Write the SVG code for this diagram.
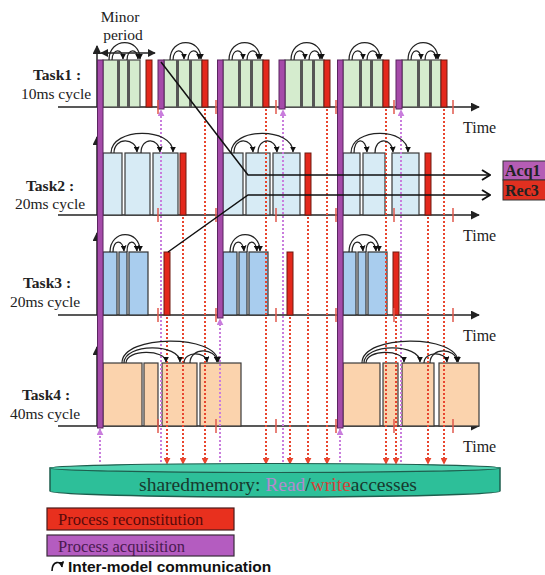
<svg xmlns="http://www.w3.org/2000/svg" width="545" height="575" viewBox="0 0 545 575">
<defs>
<style>
.lbl{font-family:"Liberation Serif",serif;font-size:16px;fill:#222}
.tl{font-size:15.5px}
.b{font-weight:bold}
.base{stroke:#222;stroke-width:1.5;marker-end:url(#ah)}
.axis{stroke:#222;stroke-width:1.5;marker-end:url(#ah)}
.tick{stroke:#e0584c;stroke-width:1.5}
.g1{fill:#d5ecce;stroke:#4a4a4a;stroke-width:1.2}
.sep{stroke:#555;stroke-width:3}
.g2{fill:#d7ebf5;stroke:#3a3a3a;stroke-width:1.2}
.g3{fill:#a9cdee;stroke:#333;stroke-width:1.2}
.g4{fill:#fbd3ad;stroke:#3a3a3a;stroke-width:1.2}
.acq{fill:#a54ba9;stroke:#5a2460;stroke-width:1}
.rec{fill:#e4281c;stroke:#6e1a10;stroke-width:1}
.rd{stroke:#e8452e;stroke-width:2;stroke-dasharray:2 2;marker-end:url(#rdn)}
.pd{stroke:#c97ddd;stroke-width:2;stroke-dasharray:2 2;marker-end:url(#pup)}
.arc{fill:none;stroke:#222;stroke-width:1.2;marker-end:url(#sa)}
.lk{fill:none;stroke:#111;stroke-width:1.5;marker-end:url(#chev)}
</style>
<marker id="ah" viewBox="0 0 10 10" refX="9" refY="5" markerWidth="9" markerHeight="9" markerUnits="userSpaceOnUse" orient="auto"><path d="M0,0 L10,5 L0,10 z" fill="#222"/></marker>
<marker id="ah2" viewBox="0 0 10 10" refX="9" refY="5" markerWidth="8" markerHeight="8" markerUnits="userSpaceOnUse" orient="auto-start-reverse"><path d="M0,0 L10,5 L0,10 z" fill="#222"/></marker>
<marker id="sa" viewBox="0 0 10 10" refX="9" refY="5" markerWidth="6" markerHeight="6" markerUnits="userSpaceOnUse" orient="auto"><path d="M0,0 L10,5 L0,10 z" fill="#111"/></marker>
<marker id="rdn" viewBox="0 0 10 10" refX="9" refY="5" markerWidth="7" markerHeight="7" markerUnits="userSpaceOnUse" orient="auto"><path d="M0,0 L10,5 L0,10 z" fill="#e8452e"/></marker>
<marker id="pup" viewBox="0 0 10 10" refX="9" refY="5" markerWidth="7" markerHeight="7" markerUnits="userSpaceOnUse" orient="auto"><path d="M0,0 L10,5 L0,10 z" fill="#c97ddd"/></marker>
<marker id="chev" viewBox="0 0 10 12" refX="9" refY="6" markerWidth="10" markerHeight="12" markerUnits="userSpaceOnUse" orient="auto"><path d="M1,1 L9,6 L1,11" fill="none" stroke="#111" stroke-width="2"/></marker>
</defs>
<rect width="545" height="575" fill="#fff"/>

<g id="minor-period">
<text class="lbl tl" x="120" y="22" text-anchor="middle">Minor</text>
<text class="lbl tl" x="123" y="40" text-anchor="middle">period</text>
<line x1="101" y1="53" x2="155" y2="53" stroke="#222" stroke-width="1.5" marker-start="url(#ah2)" marker-end="url(#ah2)"/>
</g>

<g id="task1">
<text class="lbl tl b" x="57" y="80" text-anchor="middle">Task1 :</text>
<text class="lbl tl" x="56" y="99" text-anchor="middle">10ms cycle</text>
<line class="base" x1="58" y1="107" x2="479" y2="107"/>
<line class="axis" x1="97" y1="107" x2="97" y2="46"/>
<rect class="g1" x="103" y="60" width="37" height="47"/>
<rect class="g1" x="164" y="60" width="38" height="47"/>
<rect class="g1" x="223" y="60" width="40" height="47"/>
<rect class="g1" x="285" y="60" width="39" height="47"/>
<rect class="g1" x="343" y="60" width="40" height="47"/>
<rect class="g1" x="402" y="60" width="39" height="47"/>
<g class="sep">
<line x1="118.5" y1="60" x2="118.5" y2="107"/><line x1="128.5" y1="60" x2="128.5" y2="107"/>
<line x1="177.5" y1="60" x2="177.5" y2="107"/><line x1="190.5" y1="60" x2="190.5" y2="107"/>
<line x1="239.5" y1="60" x2="239.5" y2="107"/><line x1="251.5" y1="60" x2="251.5" y2="107"/>
<line x1="301.5" y1="60" x2="301.5" y2="107"/><line x1="313.5" y1="60" x2="313.5" y2="107"/>
<line x1="360.5" y1="60" x2="360.5" y2="107"/><line x1="371.5" y1="60" x2="371.5" y2="107"/>
<line x1="418.5" y1="60" x2="418.5" y2="107"/><line x1="430.5" y1="60" x2="430.5" y2="107"/>
</g>
<rect class="rec" x="146" y="60" width="6" height="47"/>
<rect class="rec" x="202" y="60" width="6" height="47"/>
<rect class="rec" x="263" y="60" width="6" height="47"/>
<rect class="rec" x="324" y="60" width="6" height="47"/>
<rect class="rec" x="383" y="60" width="6" height="47"/>
<rect class="rec" x="441" y="60" width="6" height="47"/>
<rect class="acq" x="158" y="60" width="6" height="49"/>
<rect class="acq" x="279" y="60" width="6" height="49"/>
<rect class="acq" x="396" y="60" width="6" height="49"/>
<g class="tick">
<line x1="158" y1="100" x2="158" y2="114"/><line x1="216" y1="100" x2="216" y2="114"/><line x1="276" y1="100" x2="276" y2="114"/><line x1="336" y1="100" x2="336" y2="114"/><line x1="394" y1="100" x2="394" y2="114"/><line x1="453" y1="100" x2="453" y2="114"/>
</g>
<text class="lbl" x="463" y="133">Time</text>
</g>

<g id="task2">
<text class="lbl tl b" x="50" y="191" text-anchor="middle">Task2 :</text>
<text class="lbl tl" x="50" y="209" text-anchor="middle">20ms cycle</text>
<line class="base" x1="58" y1="215" x2="479" y2="215"/>
<line class="axis" x1="97" y1="215" x2="97" y2="137"/>
<rect class="g2" x="103" y="153" width="19" height="62"/>
<rect class="g2" x="125" y="153" width="25" height="62"/>
<rect class="g2" x="153" y="153" width="25" height="62"/>
<rect class="g2" x="223" y="153" width="20" height="62"/>
<rect class="g2" x="246" y="153" width="24" height="62"/>
<rect class="g2" x="273" y="153" width="27" height="62"/>
<rect class="g2" x="343" y="153" width="17" height="62"/>
<rect class="g2" x="363" y="153" width="22" height="62"/>
<rect class="g2" x="392" y="153" width="27" height="62"/>
<rect class="rec" x="180" y="153" width="6" height="62"/>
<rect class="rec" x="305" y="153" width="6" height="62"/>
<rect class="rec" x="425" y="153" width="6" height="62"/>
<g class="tick">
<line x1="158" y1="208" x2="158" y2="222"/><line x1="216" y1="208" x2="216" y2="222"/><line x1="276" y1="208" x2="276" y2="222"/><line x1="336" y1="208" x2="336" y2="222"/><line x1="394" y1="208" x2="394" y2="222"/><line x1="453" y1="208" x2="453" y2="222"/>
</g>
<text class="lbl" x="463" y="241">Time</text>
</g>

<g id="task3">
<text class="lbl tl b" x="47" y="288" text-anchor="middle">Task3 :</text>
<text class="lbl tl" x="45" y="307" text-anchor="middle">20ms cycle</text>
<line class="base" x1="58" y1="315" x2="479" y2="315"/>
<line class="axis" x1="97" y1="315" x2="97" y2="233"/>
<rect class="g3" x="103" y="252" width="14" height="63"/>
<rect class="g3" x="119" y="252" width="8" height="63"/>
<rect class="g3" x="129" y="252" width="19" height="63"/>
<rect class="g3" x="223" y="252" width="14" height="63"/>
<rect class="g3" x="239" y="252" width="8" height="63"/>
<rect class="g3" x="249" y="252" width="19" height="63"/>
<rect class="g3" x="343" y="252" width="13" height="63"/>
<rect class="g3" x="358" y="252" width="8" height="63"/>
<rect class="g3" x="368" y="252" width="19" height="63"/>
<rect class="rec" x="164" y="252" width="6" height="63"/>
<rect class="rec" x="287" y="252" width="6" height="63"/>
<rect class="rec" x="393" y="252" width="6" height="63"/>
<g class="tick">
<line x1="158" y1="308" x2="158" y2="322"/><line x1="216" y1="308" x2="216" y2="322"/><line x1="276" y1="308" x2="276" y2="322"/><line x1="336" y1="308" x2="336" y2="322"/><line x1="394" y1="308" x2="394" y2="322"/><line x1="453" y1="308" x2="453" y2="322"/>
</g>
<text class="lbl" x="463" y="341">Time</text>
</g>

<g id="task4">
<text class="lbl tl b" x="46" y="400" text-anchor="middle">Task4 :</text>
<text class="lbl tl" x="45" y="419" text-anchor="middle">40ms cycle</text>
<line class="base" x1="58" y1="426" x2="479" y2="426"/>
<line class="axis" x1="97" y1="426" x2="97" y2="347"/>
<rect class="g4" x="103" y="363" width="39" height="63"/>
<rect class="g4" x="144" y="363" width="14" height="63"/>
<rect class="g4" x="162" y="363" width="35" height="63"/>
<rect class="g4" x="200" y="363" width="41" height="63"/>
<rect class="g4" x="343" y="363" width="37" height="63"/>
<rect class="g4" x="383" y="363" width="15" height="63"/>
<rect class="g4" x="402" y="363" width="32" height="63"/>
<rect class="g4" x="439" y="363" width="40" height="63"/>
<g class="tick">
<line x1="158" y1="419" x2="158" y2="433"/><line x1="216" y1="419" x2="216" y2="433"/><line x1="276" y1="419" x2="276" y2="433"/><line x1="336" y1="419" x2="336" y2="433"/><line x1="394" y1="419" x2="394" y2="433"/><line x1="453" y1="419" x2="453" y2="433"/>
</g>
<text class="lbl" x="463" y="452">Time</text>
</g>

<g id="acquisition-bars">
<rect class="acq" x="97.5" y="60" width="5.5" height="368"/>
<rect class="acq" x="217.5" y="60" width="5.5" height="258"/>
<rect class="acq" x="337.5" y="60" width="5.5" height="368"/>
</g>

<g id="connectors">
<g id="writes">
<line class="rd" x1="205" y1="109" x2="205" y2="464"/>
<line class="rd" x1="266" y1="109" x2="266" y2="464"/>
<line class="rd" x1="327" y1="109" x2="327" y2="464"/>
<line class="rd" x1="386" y1="109" x2="386" y2="464"/>
<line class="rd" x1="444" y1="109" x2="444" y2="464"/>
<line class="rd" x1="183" y1="217" x2="183" y2="464"/>
<line class="rd" x1="308" y1="217" x2="308" y2="464"/>
<line class="rd" x1="428" y1="217" x2="428" y2="464"/>
<line class="rd" x1="167" y1="317" x2="167" y2="464"/>
<line class="rd" x1="290" y1="317" x2="290" y2="464"/>
<line class="rd" x1="396" y1="317" x2="396" y2="464"/>
</g>
<g id="reads">
<line class="pd" x1="161" y1="462" x2="161" y2="110"/>
<line class="pd" x1="283" y1="462" x2="283" y2="110"/>
<line class="pd" x1="401" y1="462" x2="401" y2="110"/>
<line class="pd" x1="100" y1="462" x2="100" y2="429"/>
<line class="pd" x1="220" y1="462" x2="220" y2="319"/>
<line class="pd" x1="340" y1="462" x2="340" y2="429"/>
</g>
<g id="inter-model">
<path class="arc" d="M109,60 C109,37 140,37 140,59"/><path class="arc" d="M112,60 C112,48 123,48 123,59"/><path class="arc" d="M127,60 C127,48 138,48 138,59"/>
<path class="arc" d="M170,60 C170,37 201,37 201,59"/><path class="arc" d="M173,60 C173,48 184,48 184,59"/><path class="arc" d="M188,60 C188,48 199,48 199,59"/>
<path class="arc" d="M229,60 C229,37 260,37 260,59"/><path class="arc" d="M232,60 C232,48 243,48 243,59"/><path class="arc" d="M247,60 C247,48 258,48 258,59"/>
<path class="arc" d="M291,60 C291,37 322,37 322,59"/><path class="arc" d="M294,60 C294,48 305,48 305,59"/><path class="arc" d="M309,60 C309,48 320,48 320,59"/>
<path class="arc" d="M349,60 C349,37 380,37 380,59"/><path class="arc" d="M352,60 C352,48 363,48 363,59"/><path class="arc" d="M367,60 C367,48 378,48 378,59"/>
<path class="arc" d="M408,60 C408,37 438,37 438,59"/><path class="arc" d="M411,60 C411,48 421,48 421,59"/><path class="arc" d="M425,60 C425,48 436,48 436,59"/>

<path class="arc" d="M111,153 C111,127 173,127 173,152"/><path class="arc" d="M114,153 C114,137 136,137 137,152"/><path class="arc" d="M141,153 C141,137 159,137 160,152"/>
<path class="arc" d="M231,153 C231,127 293,127 293,152"/><path class="arc" d="M234,153 C234,137 252,137 253,152"/><path class="arc" d="M258,153 C258,137 276,137 277,152"/>
<path class="arc" d="M351,153 C351,127 408,127 408,152"/><path class="arc" d="M354,153 C354,137 366,137 367,152"/><path class="arc" d="M375,153 C375,137 392,137 393,152"/>

<path class="arc" d="M110,252 C110,229 140,229 140,251"/><path class="arc" d="M113,252 C113,239 123,239 124,251"/><path class="arc" d="M127,252 C127,239 136,239 137,251"/>
<path class="arc" d="M230,252 C230,229 260,229 260,251"/><path class="arc" d="M233,252 C233,239 243,239 244,251"/><path class="arc" d="M247,252 C247,239 256,239 257,251"/>
<path class="arc" d="M349,252 C349,229 379,229 379,251"/><path class="arc" d="M352,252 C352,239 362,239 363,251"/><path class="arc" d="M366,252 C366,239 375,239 376,251"/>

<path class="arc" d="M122,363 C122,334 218,334 218,362"/><path class="arc" d="M124,363 C124,343 180,343 180,362"/><path class="arc" d="M126,363 C126,349 166,349 166,362"/><path class="arc" d="M184,363 C184,351 206,351 207,362"/><path class="arc" d="M190,363 C190,347 216,347 217,362"/>
<path class="arc" d="M362,363 C362,334 458,334 458,362"/><path class="arc" d="M364,363 C364,343 420,343 420,362"/><path class="arc" d="M366,363 C366,349 404,349 404,362"/><path class="arc" d="M424,363 C424,351 446,351 447,362"/><path class="arc" d="M430,363 C430,347 456,347 457,362"/>
</g>
<path class="lk" d="M161,62 L248,175 L490,175"/>
<path class="lk" d="M168,252 L248,195 L490,195"/>
</g>

<g id="acq1">
<rect x="503" y="161" width="44" height="19" fill="#b55db5" stroke="#333" stroke-width="1"/>
<text class="lbl b" x="505" y="176" font-size="14.5" fill="#2a0a2a">Acq1</text>
</g>
<g id="rec3">
<rect x="503" y="180" width="44" height="20" fill="#e03020" stroke="#333" stroke-width="1"/>
<text class="lbl b" x="505" y="196" font-size="14.5" fill="#3a0a0a">Rec3</text>
</g>

<g id="memory">
<path d="M50,468 L50,491 A225,6 0 0 0 500,491 L500,468 Z" fill="#2dbf99" stroke="#1e5e4e" stroke-width="1.5"/>
<ellipse cx="275" cy="468" rx="225" ry="4.5" fill="#4fd2b0" stroke="#1e5e4e" stroke-width="1.2"/>
<text x="278" y="491" text-anchor="middle" font-family="'Liberation Serif',serif" font-size="19.5" fill="#173a2e">sharedmemory: <tspan fill="#b48ad0">Read</tspan>/<tspan fill="#d0453a">write</tspan>accesses</text>
</g>

<g id="legend">
<rect x="47" y="508" width="187" height="22" fill="#e8301e" stroke="#4a1a1a" stroke-width="1.2"/>
<text x="58" y="525" font-family="'Liberation Serif',serif" font-size="16.5" fill="#5a0a0a">Process reconstitution</text>
<rect x="47" y="535" width="187" height="21" fill="#b45cc0" stroke="#3a2a3a" stroke-width="1.2"/>
<text x="58" y="552" font-family="'Liberation Serif',serif" font-size="16.5" fill="#4a1a50">Process acquisition</text>
<path d="M52,571 C52,561 61,560 62,567" fill="none" stroke="#111" stroke-width="1.6" marker-end="url(#sa)"/>
<text x="68" y="572" font-family="'Liberation Sans',Arial,sans-serif" font-weight="bold" font-size="15.5" fill="#111">Inter-model communication</text>
</g>
</svg>
